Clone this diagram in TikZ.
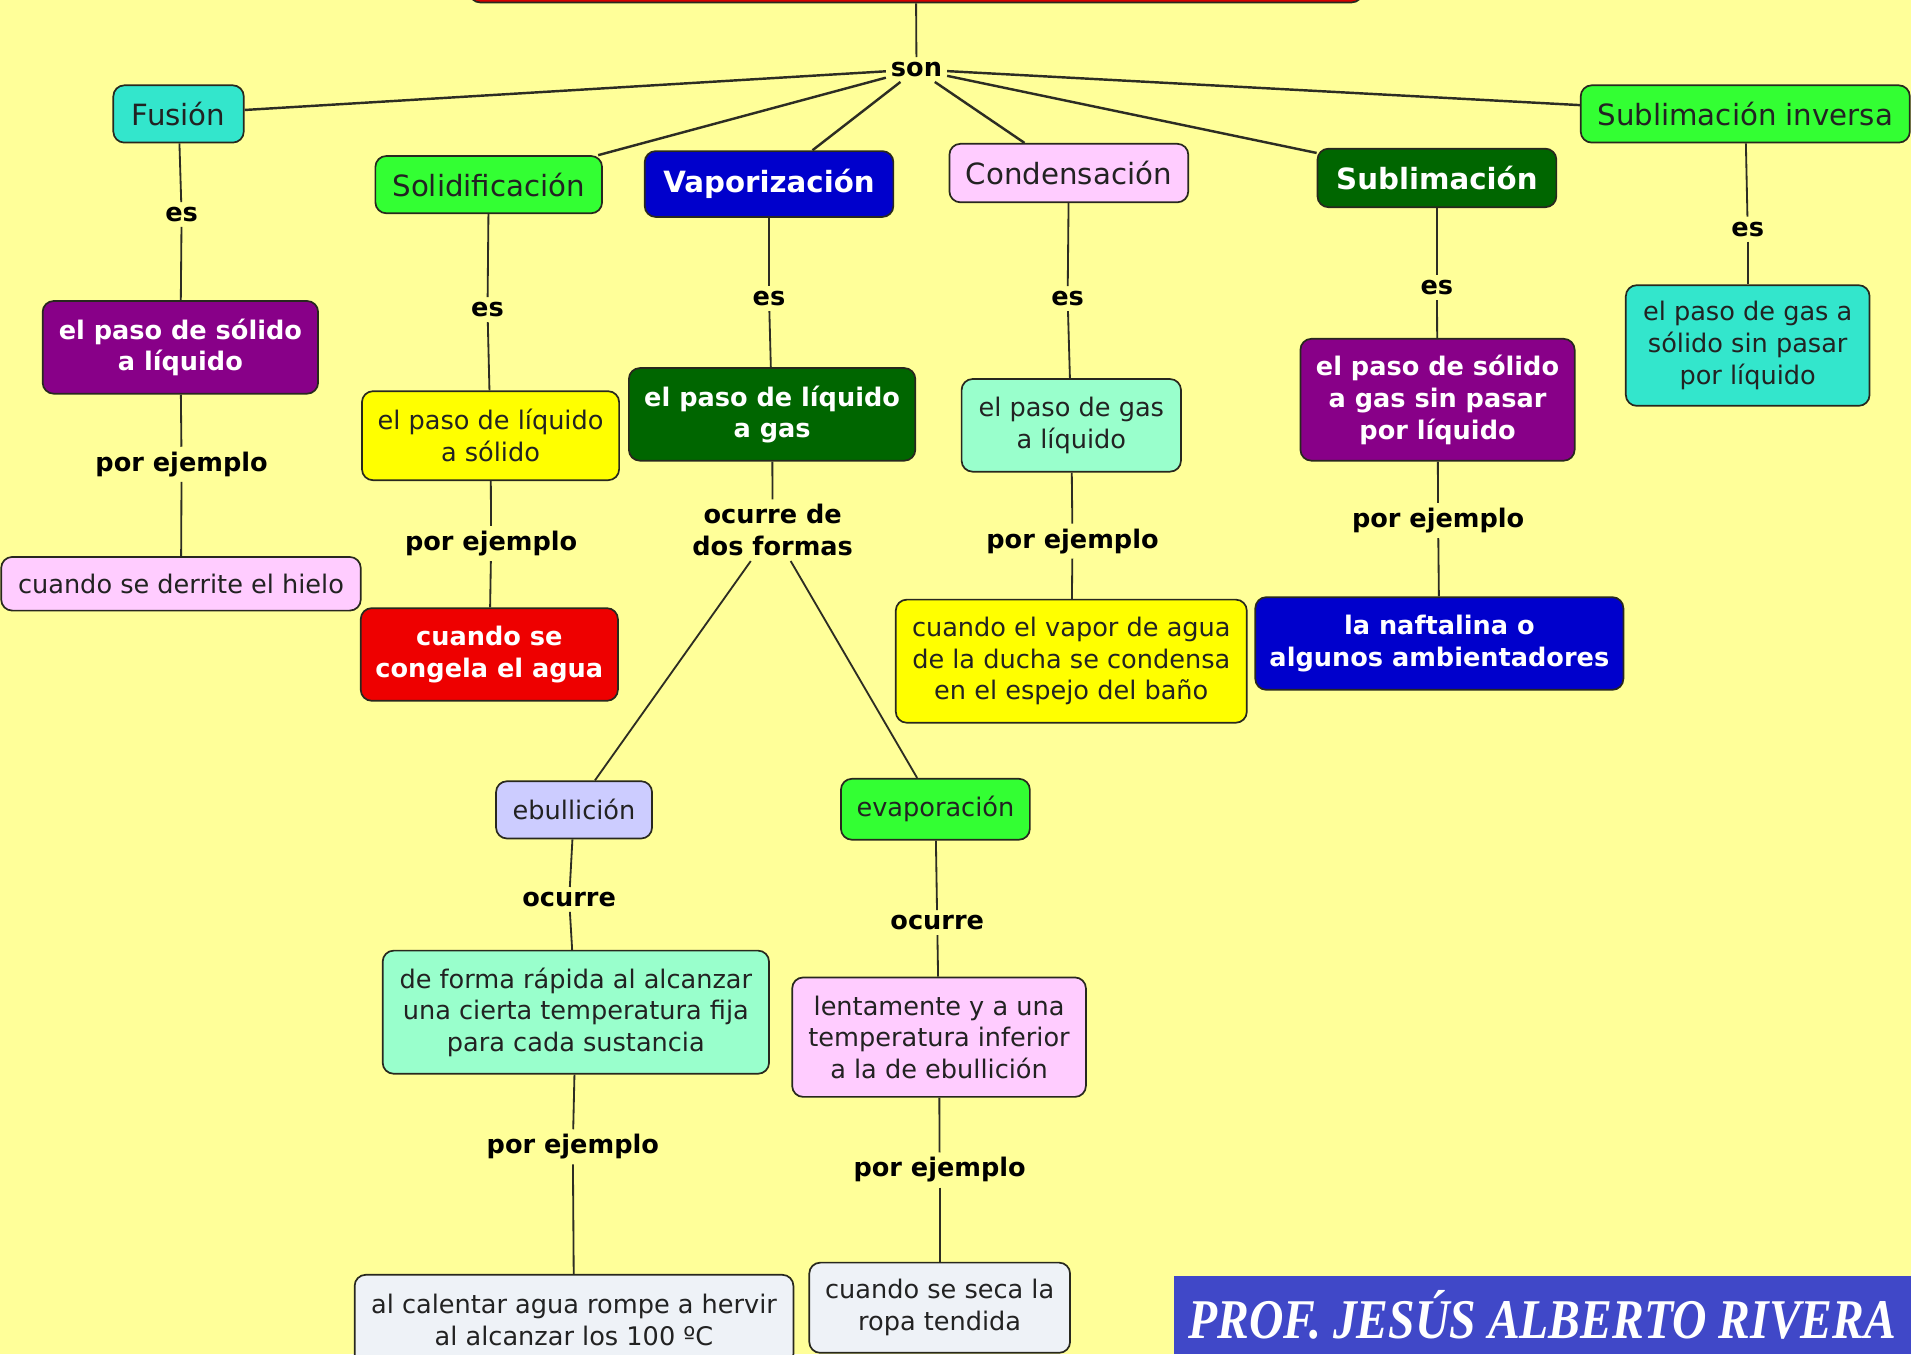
\documentclass[tikz,border=0pt]{standalone}
\usepackage{fontspec}
\setmainfont{DejaVu Sans}
\newfontfamily\signfont{Liberation Serif}
\usepackage{tikz}
\usetikzlibrary{positioning}

\definecolor{paper}{RGB}{255, 255, 153}
\definecolor{inkdark}{RGB}{34, 34, 34}
\definecolor{edgedark}{RGB}{40, 40, 30}
\definecolor{linkgray}{RGB}{45, 45, 35}
\definecolor{turq}{RGB}{51, 230, 204}
\definecolor{limegreen}{RGB}{51, 255, 51}
\definecolor{deepblue}{RGB}{0, 0, 204}
\definecolor{softpink}{RGB}{255, 204, 255}
\definecolor{deepgreen}{RGB}{0, 102, 0}
\definecolor{plum}{RGB}{136, 0, 136}
\definecolor{lemon}{RGB}{255, 255, 0}
\definecolor{aqua}{RGB}{153, 255, 204}
\definecolor{lavender}{RGB}{204, 204, 255}
\definecolor{firered}{RGB}{238, 0, 0}
\definecolor{mistgray}{RGB}{238, 242, 247}
\definecolor{signblue}{RGB}{64, 72, 200}

\tikzset{
  concept/.style={draw=edgedark, line width=1.4pt, rounded corners=9pt,
    align=center, inner sep=0pt, text=inkdark,
    font=\fontsize{21}{26}\selectfont},
  topic/.style={concept, font=\fontsize{24}{28}\selectfont},
  strong/.style={text=white, font=\fontsize{21}{26}\selectfont\bfseries},
  strongtopic/.style={text=white, font=\fontsize{24}{28}\selectfont\bfseries},
  linkword/.style={align=center, inner sep=4pt, text=black,
    font=\fontsize{21}{26}\selectfont\bfseries},
  link/.style={draw=linkgray, line width=1.5pt},
  fanlink/.style={link, line width=2pt}
}

\begin{document}
\begin{tikzpicture}[x=1pt, y=-1pt]
    \useasboundingbox (0,0) rectangle (1568,1111);
    \clip (0,0) rectangle (1568,1111);
    \fill[paper] (0,0) rectangle (1568,1111);

    % Title (cut off at the top)
    \node[concept, fill=firered!90!black, minimum width=733pt, minimum height=44pt]
      (titlebox) at (751.5,-20) {};
    \node[linkword] (son) at (752,57) {son};

    % Changes of state
    \node[topic, fill=turq, minimum width=107pt, minimum height=47pt]
      (fusion) at (146.5,93.5) {Fusión};
    \node[topic, fill=limegreen, minimum width=186pt, minimum height=47pt]
      (solid) at (401,151.5) {Solidificación};
    \node[topic, strongtopic, fill=deepblue, minimum width=204pt, minimum height=54pt]
      (vapor) at (631,151) {Vaporización};
    \node[topic, fill=softpink, minimum width=196pt, minimum height=48pt]
      (conden) at (877,142) {Condensación};
    \node[topic, strongtopic, fill=deepgreen, minimum width=196pt, minimum height=48pt]
      (sublim) at (1179,146) {Sublimación};
    \node[topic, fill=limegreen, minimum width=270pt, minimum height=47pt]
      (subinv) at (1432,93.5) {Sublimación inversa};

    % Definitions
    \node[concept, strong, fill=plum, minimum width=226pt, minimum height=76pt]
      (fusionDef) at (148,285) {el paso de sólido\\a líquido};
    \node[concept, fill=lemon, minimum width=211pt, minimum height=73pt]
      (solidDef) at (402.5,357.5) {el paso de líquido\\a sólido};
    \node[concept, strong, fill=deepgreen, minimum width=235pt, minimum height=76pt]
      (vaporDef) at (633.5,340) {el paso de líquido\\a gas};
    \node[concept, fill=aqua, minimum width=180pt, minimum height=76pt]
      (condenDef) at (879,349) {el paso de gas\\a líquido};
    \node[concept, strong, fill=plum, minimum width=225pt, minimum height=100pt]
      (sublimDef) at (1179.5,328) {el paso de sólido\\a gas sin pasar\\por líquido};
    \node[concept, fill=turq, minimum width=200pt, minimum height=99pt]
      (subinvDef) at (1434,283.5) {el paso de gas a\\sólido sin pasar\\por líquido};

    % Examples
    \node[concept, fill=softpink, minimum width=295pt, minimum height=44pt]
      (fusionEx) at (148.5,479) {cuando se derrite el hielo};
    \node[concept, strong, fill=firered, minimum width=211pt, minimum height=76pt]
      (solidEx) at (401.5,537) {cuando se\\congela el agua};
    \node[concept, fill=lemon, minimum width=288pt, minimum height=101pt]
      (condenEx) at (879,542.5) {cuando el vapor de agua\\de la ducha se condensa\\en el espejo del baño};
    \node[concept, strong, fill=deepblue, minimum width=302pt, minimum height=76pt]
      (sublimEx) at (1181,528) {la naftalina o\\algunos ambientadores};

    % Two ways of vaporization
    \node[concept, fill=lavender, minimum width=128pt, minimum height=47pt]
      (ebull) at (471,664.5) {ebullición};
    \node[concept, fill=limegreen, minimum width=155pt, minimum height=50pt]
      (evapo) at (767.5,664) {evaporación};
    \node[concept, fill=aqua, minimum width=317pt, minimum height=101pt]
      (ebullHow) at (472.5,830.5) {de forma rápida al alcanzar\\una cierta temperatura fija\\para cada sustancia};
    \node[concept, fill=softpink, minimum width=241pt, minimum height=98pt]
      (evapoHow) at (770.5,851) {lentamente y a una\\temperatura inferior\\a la de ebullición};
    \node[concept, fill=mistgray, minimum width=360pt, minimum height=74pt]
      (ebullEx) at (471,1083) {al calentar agua rompe a hervir\\al alcanzar los 100 ºC};
    \node[concept, fill=mistgray, minimum width=214pt, minimum height=74pt]
      (evapoEx) at (771,1073) {cuando se seca la\\ropa tendida};

    % Linking words
    \node[linkword] (esFusion) at (149,176) {es};
    \node[linkword] (esSolid) at (400,254) {es};
    \node[linkword] (esVapor) at (631,245) {es};
    \node[linkword] (esConden) at (876,245) {es};
    \node[linkword] (esSublim) at (1179,236) {es};
    \node[linkword] (esSubinv) at (1434,188) {es};
    \node[linkword] (ejFusion) at (149,381) {por ejemplo};
    \node[linkword] (ejSolid) at (403,446) {por ejemplo};
    \node[linkword] (ejConden) at (880,444) {por ejemplo};
    \node[linkword] (ejSublim) at (1180,427) {por ejemplo};
    \node[linkword] (formas) at (634,435) {ocurre de\\dos formas};
    \node[linkword] (ocurreEbull) at (467,738) {ocurre};
    \node[linkword] (ocurreEvapo) at (769,757) {ocurre};
    \node[linkword] (ejEbull) at (470,941) {por ejemplo};
    \node[linkword] (ejEvapo) at (771,960) {por ejemplo};

    % Connectors
    \draw[link] (titlebox) -- (son);
    \foreach \n in {fusion,solid,vapor,conden,sublim,subinv}
      \draw[fanlink] (son) -- (\n);
    \foreach \a/\b in {fusion/esFusion, esFusion/fusionDef, fusionDef/ejFusion, ejFusion/fusionEx,
        solid/esSolid, esSolid/solidDef, solidDef/ejSolid, ejSolid/solidEx,
        vapor/esVapor, esVapor/vaporDef, vaporDef/formas, formas/ebull, formas/evapo,
        conden/esConden, esConden/condenDef, condenDef/ejConden, ejConden/condenEx,
        sublim/esSublim, esSublim/sublimDef, sublimDef/ejSublim, ejSublim/sublimEx,
        subinv/esSubinv, esSubinv/subinvDef,
        ebull/ocurreEbull, ocurreEbull/ebullHow, ebullHow/ejEbull, ejEbull/ebullEx,
        evapo/ocurreEvapo, ocurreEvapo/evapoHow, evapoHow/ejEvapo, ejEvapo/evapoEx}
      \draw[link] (\a) -- (\b);

    % Signature
    \node[fill=signblue, minimum width=605pt, minimum height=64pt, inner sep=0pt,
          text=white, font=\signfont\fontsize{46}{48}\selectfont\bfseries\itshape]
      (signature) at (1265.5,1079) {\scalebox{0.85}[1]{PROF. JESÚS ALBERTO RIVERA}};
  \end{tikzpicture}
\end{document}
